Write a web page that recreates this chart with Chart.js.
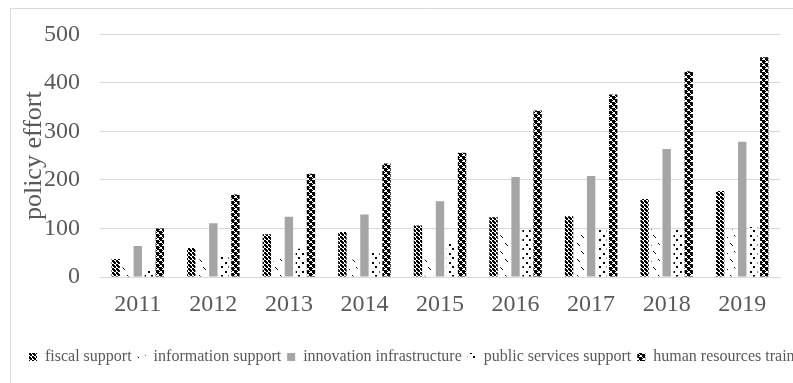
<!DOCTYPE html>
<html>
<head>
<meta charset="utf-8">
<script src="https://cdn.jsdelivr.net/npm/chart.js@4/dist/chart.umd.min.js"></script>
<style>
  html, body { margin: 0; padding: 0; background: #fff; overflow: hidden; }
  #wrap { width: 793px; height: 383px; overflow: hidden; position: relative; }
  canvas { position: absolute; left: 0; top: 0; }
</style>
</head>
<body>
<div id="wrap"><canvas id="chart" width="844" height="383"></canvas></div>
<script>
const years = ['2011', '2012', '2013', '2014', '2015', '2016', '2017', '2018', '2019'];
const fiscal = [37, 60, 88, 93, 106, 123, 125, 161, 177];
const information = [22, 36, 37, 36, 37, 97, 97, 99, 98];
const innovation = [64, 111, 124, 129, 156, 206, 208, 264, 279];
const publicServices = [13, 43, 58, 54, 71, 97, 97, 99, 103];
const humanResources = [100, 170, 213, 234, 256, 343, 376, 424, 453];
const seriesNames = ['fiscal support', 'information support', 'innovation infrastructure',
                     'public services support', 'human resources training'];
const yTicks = [0, 100, 200, 300, 400, 500];

const textColor = '#595959';
const lineColor = '#d9d9d9';
const canvasWidth = 844;

// small tile -> CanvasPattern
function makePattern(w, h, pixels, bg) {
    const c = document.createElement('canvas');
    c.width = w; c.height = h;
    const g = c.getContext('2d');
    g.fillStyle = bg;
    g.fillRect(0, 0, w, h);
    g.fillStyle = '#000';
    pixels.forEach(p => g.fillRect(p[0], p[1], p[2] || 1, p[3] || 1));
    return g.createPattern(c, 'repeat');
}

const ctx = document.getElementById('chart').getContext('2d');

const fiscalFill = makePattern(4, 4, [[0, 0, 2, 2], [2, 2, 2, 2], [1, 2], [2, 1]], '#fff');
const infoFill = makePattern(9, 16, [[1, 3], [2, 4], [3, 5], [5, 11], [6, 12], [7, 13]], '#fff');
const publicFill = makePattern(7, 9, [[1, 1, 2, 2], [4, 5, 2, 2]], '#fff');
const hrFill = makePattern(6, 6, [[0, 0, 3, 3], [3, 3, 3, 3], [1, 3], [4, 0], [3, 1], [0, 4], [2, 3], [5, 0]], '#fff');

const fills = [fiscalFill, infoFill, '#a5a5a5', publicFill, hrFill];
const values = [fiscal, information, innovation, publicServices, humanResources];

const frame = {
    id: 'frame',
    beforeDraw(chart) {
        const c = chart.ctx;
        c.save();
        c.strokeStyle = lineColor;
        c.lineWidth = 1;
        c.beginPath();
        c.moveTo(10.5, 400);
        c.lineTo(10.5, 8.5);
        c.lineTo(900, 8.5);
        c.stroke();
        c.restore();
    }
};

new Chart(ctx, {
    type: 'bar',
    data: {
        labels: years,
        datasets: seriesNames.map((name, i) => ({
            label: name,
            data: values[i],
            backgroundColor: fills[i],
            borderWidth: 0,
            categoryPercentage: 0.73,
            barPercentage: 0.76
        }))
    },
    options: {
        responsive: false,
        animation: false,
        devicePixelRatio: 1,
        layout: { padding: { left: 0, right: 0, top: 33, bottom: 8 } },
        plugins: {
            tooltip: { enabled: false },
            legend: {
                position: 'bottom',
                labels: {
                    color: textColor,
                    font: { family: 'Liberation Serif', size: 16 },
                    boxWidth: 8,
                    boxHeight: 8,
                    padding: 6
                }
            }
        },
        scales: {
            x: {
                grid: { display: false },
                border: { display: true, color: lineColor, width: 1 },
                ticks: {
                    color: textColor,
                    font: { family: 'Liberation Serif', size: 24 },
                    padding: 5
                },
                afterFit: s => { s.height = 66; }
            },
            y: {
                min: 0,
                max: 500,
                afterBuildTicks: s => { s.ticks = yTicks.map(v => ({ value: v })); },
                grid: { color: lineColor, drawTicks: false },
                border: { display: false },
                ticks: {
                    color: textColor,
                    font: { family: 'Liberation Serif', size: 24 },
                    padding: 20
                },
                title: {
                    display: true,
                    text: 'policy effort',
                    color: textColor,
                    font: { family: 'Liberation Serif', size: 26 },
                    padding: { top: 19, bottom: 0 }
                },
                afterFit: s => { s.width = 100; }
            },
            // empty spacer on the right so the legend can use the full canvas width
            spacer: {
                type: 'linear',
                position: 'right',
                display: true,
                grid: { display: false },
                border: { display: false },
                ticks: { display: false },
                afterFit: s => { s.width = canvasWidth - 780; }
            }
        }
    },
    plugins: [frame]
});
</script>
</body>
</html>
